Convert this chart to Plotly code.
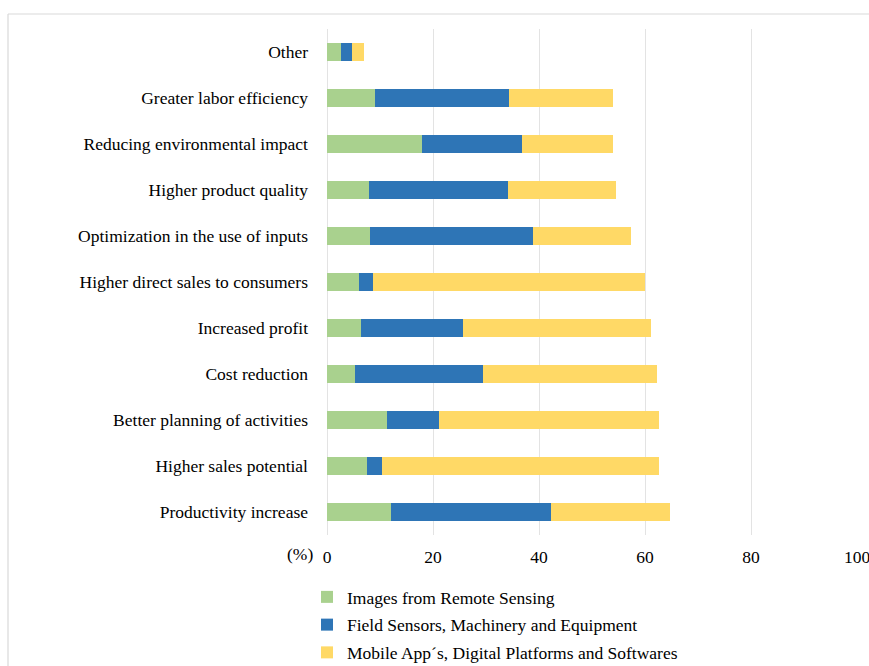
import plotly.graph_objects as go

categories = [
    "Other",
    "Greater labor efficiency",
    "Reducing environmental impact",
    "Higher product quality",
    "Optimization in the use of inputs",
    "Higher direct sales to consumers",
    "Increased profit",
    "Cost reduction",
    "Better planning of activities",
    "Higher sales potential",
    "Productivity increase",
]
remote_sensing = [2.6, 9.1, 17.9, 7.9, 8.1, 6.0, 6.4, 5.3, 11.3, 7.5, 12.1]
field_sensors = [2.1, 25.2, 18.9, 26.3, 30.8, 2.7, 19.3, 24.1, 9.8, 2.9, 30.2]
mobile_apps = [2.3, 19.7, 17.2, 20.3, 18.5, 51.3, 35.4, 32.9, 41.5, 52.2, 22.4]
series_names = [
    "Images from Remote Sensing",
    "Field Sensors, Machinery and Equipment",
    "Mobile App\u00b4s, Digital Platforms and Softwares",
]
x_ticks = [0, 20, 40, 60, 80, 100]

colors = ["#A9D18E", "#2E75B6", "#FFD966"]
FONT = "Liberation Serif, Times New Roman, serif"
FS = 17.5

fig = go.Figure()
for name, vals, col in zip(series_names, [remote_sensing, field_sensors, mobile_apps], colors):
    fig.add_trace(go.Bar(
        y=categories, x=vals, name=name, orientation="h",
        marker=dict(color=col, line=dict(width=0)),
        legendgroup=name,
    ))

W, H = 869, 666
L, R, T, B = 327, 12, 29, 131
pw, ph = W - L - R, H - T - B

def px_x(p):
    return (p - L) / pw

def px_y(p):
    return (H - B - p) / ph

fig.update_layout(
    width=W, height=H,
    margin=dict(l=L, r=R, t=T, b=B, pad=0, autoexpand=False),
    barmode="stack",
    bargap=0.6,
    paper_bgcolor="white",
    plot_bgcolor="white",
    font=dict(family=FONT, size=FS, color="#000000"),
    xaxis=dict(
        range=[0, 100], tickvals=x_ticks, ticktext=[str(v) for v in x_ticks],
        showgrid=True, gridcolor="#E3E3E3", gridwidth=1,
        zeroline=True, zerolinecolor="#E3E3E3", zerolinewidth=1,
        showline=False, ticks="", ticklabelstandoff=9,
        ticklabeloverflow="allow",
        tickfont=dict(family=FONT, size=FS, color="#000000"),
        fixedrange=True, automargin=False,
    ),
    yaxis=dict(
        categoryorder="array", categoryarray=categories,
        autorange="reversed",
        showgrid=False, zeroline=False, showline=False, ticks="",
        ticklabelstandoff=18,
        tickfont=dict(family=FONT, size=FS, color="#000000"),
        fixedrange=True, automargin=False,
    ),
    legend=dict(
        orientation="v", x=px_x(307), xanchor="left", y=px_y(579), yanchor="top",
        traceorder="grouped", tracegroupgap=2,
        font=dict(family=FONT, size=FS, color="#000000"),
        bgcolor="rgba(0,0,0,0)",
    ),
    showlegend=True,
)

fig.add_annotation(
    xref="paper", yref="paper", x=px_x(300), y=px_y(554),
    text="(%)", showarrow=False, xanchor="center", yanchor="middle",
    font=dict(family=FONT, size=FS, color="#000000"),
)

# chart-area frame (top and left edges visible)
fig.add_shape(type="line", xref="paper", yref="paper",
              x0=px_x(8), x1=px_x(W + 20), y0=px_y(14), y1=px_y(14),
              line=dict(color="#D9D9D9", width=1.2))
fig.add_shape(type="line", xref="paper", yref="paper",
              x0=px_x(8), x1=px_x(8), y0=px_y(14), y1=px_y(H + 20),
              line=dict(color="#D9D9D9", width=1.2))

fig.write_html("out.html", config={"displayModeBar": False},
               post_script="document.body.style.margin='0px';")
